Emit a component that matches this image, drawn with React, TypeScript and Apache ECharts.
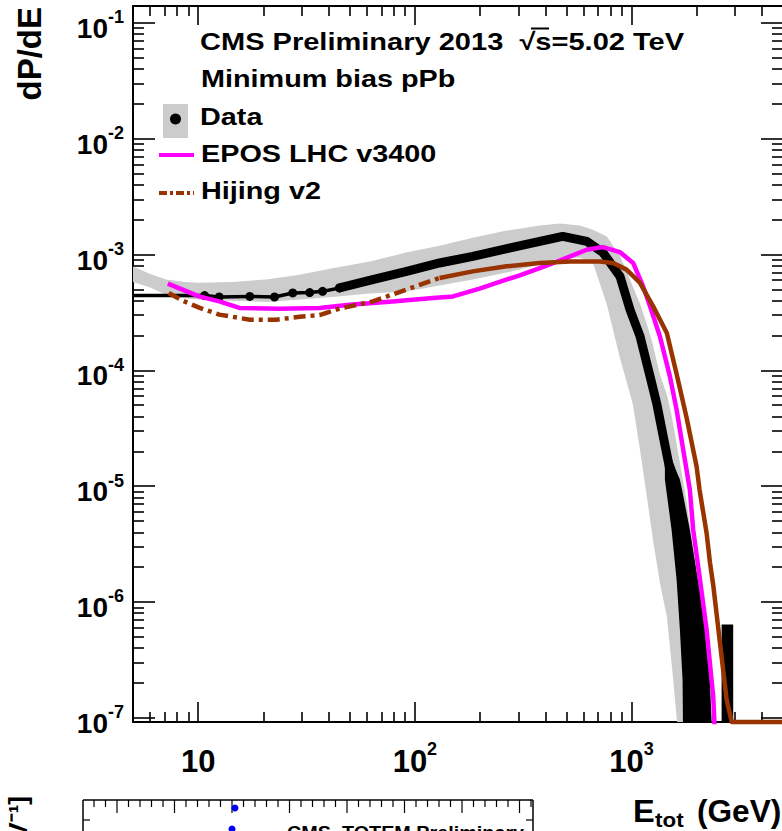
import React, { useEffect, useRef } from "react";
import * as echarts from "echarts";

// ---------- axis ranges & ticks ----------
const X_RANGE = [5, 5000];
const Y_RANGE = [9.2e-8, 0.14];
const ZERO = 5e-8; // empty bins / error reaching zero (below the frame)

const xMajor = [10, 100, 1000];
const xMinor = [6, 7, 8, 9, 20, 30, 40, 50, 60, 70, 80, 90, 200, 300, 400, 500, 600, 700, 800, 900, 2000, 3000, 4000];
const yMajor = [1e-7, 1e-6, 1e-5, 1e-4, 1e-3, 1e-2, 1e-1];
const yMinor: number[] = [];
for (let n = -7; n <= -2; n++) for (let k = 2; k <= 9; k++) yMinor.push(+(k * Math.pow(10, n)).toPrecision(3));

// ---------- data: systematic band (grey) ----------
const bandE = [5, 6, 7.1, 8.7, 10, 14.4, 20.6, 29.4, 41.7, 62, 91, 130, 185, 265, 377, 467, 577, 663, 769, 883, 1014, 1092, 1177, 1254, 1351, 1455, 1535, 1671, 1800, 1960, 2180, 2350];
const bandHi = [7.9e-4, 6.8e-4, 6.1e-4, 5.8e-4, 5.7e-4, 5.8e-4, 6.1e-4, 6.7e-4, 7.6e-4, 8.7e-4, 1.04e-3, 1.19e-3, 1.4e-3, 1.61e-3, 1.78e-3, 1.85e-3, 1.78e-3, 1.64e-3, 1.43e-3, 9.8e-4, 5.3e-4, 3.8e-4, 2.5e-4, 1.67e-4, 9.2e-5, 6.2e-5, 4.0e-5, 1.6e-5, 7.2e-6, 2.3e-6, 7.0e-7, 9.0e-8];
const bandLo = [5.8e-4, 5.2e-4, 4.5e-4, 4.2e-4, 4.1e-4, 4.0e-4, 3.9e-4, 4.1e-4, 4.3e-4, 4.6e-4, 4.8e-4, 5.4e-4, 6.1e-4, 7.0e-4, 8.2e-4, 9.4e-4, 9.4e-4, 8.5e-4, 3.7e-4, 1.29e-4, 5.1e-5, 2.1e-5, 8.1e-6, 3.5e-6, 1.47e-6, 7.5e-7, 2.8e-7, ZERO, ZERO, ZERO, ZERO, ZERO];

// ---------- data: measured points ----------
const dataE = [5, 10.7, 12.5, 17.3, 22.5, 27.3, 32.7, 37.5, 44.9, 63.8, 91.6, 130, 185, 266, 377, 481, 622, 738, 884, 984, 1094, 1217, 1305, 1400, 1503, 1614, 1671, 1858, 1960, 2069];
const dataP = [4.42e-4, 4.42e-4, 4.3e-4, 4.35e-4, 4.3e-4, 4.66e-4, 4.7e-4, 4.81e-4, 5.15e-4, 6.07e-4, 7.16e-4, 8.46e-4, 9.65e-4, 1.125e-3, 1.3e-3, 1.435e-3, 1.3e-3, 1.04e-3, 6.49e-4, 3.34e-4, 1.97e-4, 8.87e-5, 5.23e-5, 2.69e-5, 1.39e-5, 7.16e-6, 3.94e-6, 1.46e-6, 4.72e-7, 2.13e-7];
// statistical errors in the tail
const errE = [1425, 1530, 1614, 1671, 1720, 1731, 1858, 2024, 2220, 2300, 2343];
const errHi = [2.5e-5, 1.73e-5, 1.33e-5, 1.14e-5, 8.8e-6, 8.3e-6, 4.2e-6, 1.56e-6, 5.8e-7, 2.1e-7, 9.0e-8];
const errLo = [1.14e-5, 4.2e-6, 1.56e-6, 5.8e-7, 2.1e-7, ZERO, ZERO, ZERO, ZERO, ZERO, ZERO];
const outlierE = [2604, 2945];
const outlierHi = [6.4e-7, 6.4e-7];
const outlierLo = [ZERO, ZERO];

// ---------- models ----------
const eposE = [7.24, 8.46, 10.1, 12.5, 15.5, 23.7, 36.3, 50, 79, 121, 150, 199, 266, 305, 405, 501, 620, 739, 883, 1017, 1131, 1217, 1351, 1503, 1614, 1731, 1858, 1925, 2069, 2220, 2382, 2450];
const eposP = [5.61e-4, 4.98e-4, 4.35e-4, 3.94e-4, 3.46e-4, 3.41e-4, 3.46e-4, 3.69e-4, 3.94e-4, 4.22e-4, 4.35e-4, 5.08e-4, 6.1e-4, 6.6e-4, 8.01e-4, 9.35e-4, 1.1e-3, 1.16e-3, 1.05e-3, 8.46e-4, 5.31e-4, 3.57e-4, 1.97e-4, 8.87e-5, 4.58e-5, 2.07e-5, 9.33e-6, 4.21e-6, 1.56e-6, 5.77e-7, 1.52e-7, ZERO];

const hijE = [7.31, 8.46, 10.1, 12.5, 17.3, 22.9, 29.4, 36.3, 44.9, 64, 91.3, 130, 185, 265, 377, 519, 714, 822, 948, 1092, 1258, 1455, 1614, 1795, 1996, 2060, 2220, 2300, 2382, 2557, 2747, 2900, 5000];
const hijP = [4.66e-4, 4.0e-4, 3.48e-4, 3.03e-4, 2.74e-4, 2.74e-4, 2.9e-4, 3.0e-4, 3.41e-4, 3.94e-4, 4.98e-4, 6.28e-4, 7.16e-4, 7.91e-4, 8.46e-4, 8.73e-4, 8.7e-4, 8.46e-4, 7.41e-4, 5.72e-4, 3.57e-4, 2.1e-4, 9.3e-5, 3.9e-5, 1.48e-5, 9.3e-6, 3.94e-6, 2.2e-6, 1.4e-6, 4.5e-7, 1.43e-7, Y_RANGE[0], Y_RANGE[0]];

// ---------- styling ----------
const FONT = '"Liberation Sans", Arial, Helvetica, sans-serif';
const GREY = "#cccccc";
const MAGENTA = "#ff00ff";
const BROWN = "#993300";

const zip = (xs: number[], ys: number[]) => xs.map((x, i) => [x, ys[i]]);

function bandRenderer(es: number[], lo: number[], hi: number[], color: string) {
  return (params: any, api: any) => {
    const upper = es.map((e, i) => api.coord([e, hi[i]]));
    const lower = es.map((e, i) => api.coord([e, lo[i]])).reverse();
    const cs = params.coordSys;
    return {
      type: "polygon",
      shape: { points: upper.concat(lower) },
      style: { fill: color },
      clipPath: { type: "rect", shape: { x: cs.x, y: cs.y, width: cs.width, height: cs.height } },
    };
  };
}

const supRich = (base: number, sup: number) => ({
  b: { fontSize: base, fontWeight: "bold", fontFamily: FONT, color: "#000", lineHeight: base + 6, verticalAlign: "bottom" },
  s: { fontSize: sup, fontWeight: "bold", fontFamily: FONT, color: "#000", lineHeight: sup, verticalAlign: "top" },
});

function xAxisDef(position: string, ticks: number[], len: number, labels: boolean, line: boolean) {
  return {
    type: "log", logBase: 10, min: X_RANGE[0], max: X_RANGE[1], position, gridIndex: 0,
    axisLine: { show: line, onZero: false, lineStyle: { color: "#000", width: 2 } },
    axisTick: { show: true, inside: true, length: len, customValues: ticks, lineStyle: { color: "#000", width: 1.6 } },
    axisLabel: labels
      ? {
          show: true, customValues: xMajor, margin: 18,
          formatter: (v: number) => {
            const e = Math.round(Math.log10(v));
            return e === 1 ? "{b|10}" : `{b|10}{s|${e}}`;
          },
          rich: supRich(31, 18),
        }
      : { show: false },
    splitLine: { show: false }, minorTick: { show: false }, minorSplitLine: { show: false },
  };
}

function yAxisDef(position: string, ticks: number[], len: number, labels: boolean, line: boolean) {
  return {
    type: "log", logBase: 10, min: Y_RANGE[0], max: Y_RANGE[1], position, gridIndex: 0,
    axisLine: { show: line, onZero: false, lineStyle: { color: "#000", width: 2 } },
    axisTick: { show: true, inside: true, length: len, customValues: ticks, lineStyle: { color: "#000", width: 1.6 } },
    axisLabel: labels
      ? {
          show: true, customValues: yMajor, margin: 9, padding: [5, 0, 0, 0],
          formatter: (v: number) => `{b|10}{s|${Math.round(Math.log10(v))}}`,
          rich: supRich(28, 18),
        }
      : { show: false },
    splitLine: { show: false }, minorTick: { show: false }, minorSplitLine: { show: false },
  };
}

const text = (t: string, x: number, y: number, size: number, extra: any = {}) => ({
  type: "text", x, y, scaleX: extra.scaleX ?? 1.2, silent: true,
  style: { text: t, fontSize: size, fontWeight: "bold", fontFamily: FONT, fill: "#000", align: "left", verticalAlign: "middle", ...(extra.style || {}) },
  ...(extra.rotation != null ? { rotation: extra.rotation } : {}),
});

const fragmentTicks: any[] = [];
for (let i = 0; i < 39; i++) {
  const x = 94 + i * 11.5;
  fragmentTicks.push({ type: "line", silent: true, shape: { x1: x, y1: 800, x2: x, y2: i % 5 === 2 ? 813 : 807 }, style: { stroke: "#000", lineWidth: 1.2 } });
}

const option: any = {
  animation: false,
  backgroundColor: "#ffffff",
  grid: { left: 133, top: 6, width: 650, height: 716, containLabel: false, outerBoundsMode: "none", show: false },
  xAxis: [
    xAxisDef("bottom", xMajor, 20, true, true),
    xAxisDef("bottom", xMinor, 10, false, false),
    xAxisDef("top", xMajor, 19, false, true),
    xAxisDef("top", xMinor, 10, false, false),
  ],
  yAxis: [
    yAxisDef("left", yMajor, 22, true, true),
    yAxisDef("left", yMinor, 11, false, false),
    yAxisDef("right", yMajor, 22, false, true),
    yAxisDef("right", yMinor, 11, false, false),
  ],
  series: [
    { type: "custom", name: "Data (syst.)", silent: true, clip: true, z: 1, renderItem: bandRenderer(bandE, bandLo, bandHi, GREY), data: [[bandE[0], bandHi[0]]] },
    { type: "custom", name: "Data (stat.)", silent: true, clip: true, z: 2, renderItem: bandRenderer(errE, errLo, errHi, "#000"), data: [[errE[0], errHi[0]]] },
    { type: "custom", name: "Data (stat.) bin", silent: true, clip: true, z: 2, renderItem: bandRenderer(outlierE, outlierLo, outlierHi, "#000"), data: [[outlierE[0], outlierHi[0]]] },
    {
      type: "line", name: "Data", z: 3, data: zip(dataE, dataP).slice(0, 9),
      lineStyle: { color: "#000", width: 3.5 }, itemStyle: { color: "#000" },
      symbol: "circle", showSymbol: true, symbolSize: (_v: any, p: any) => (p.dataIndex === 0 ? 0 : 9),
    },
    {
      type: "line", name: "Data", z: 3, data: zip(dataE, dataP).slice(8),
      lineStyle: { color: "#000", width: 9, cap: "round", join: "round" }, showSymbol: false,
    },
    {
      type: "line", name: "EPOS LHC v3400", z: 4, data: zip(eposE, eposP),
      lineStyle: { color: MAGENTA, width: 4.5, join: "round" }, showSymbol: false,
    },
    {
      type: "line", name: "Hijing v2", z: 5, data: zip(hijE, hijP).slice(0, 12),
      lineStyle: { color: BROWN, width: 4.5, type: [12, 5, 4, 5] }, showSymbol: false,
    },
    {
      type: "line", name: "Hijing v2", z: 5, clip: false, data: zip(hijE, hijP).slice(11),
      lineStyle: { color: BROWN, width: 4.5, join: "round" }, showSymbol: false,
    },
  ],
  graphic: [
    text("CMS Preliminary 2013  \u221As=5.02 TeV", 200, 42, 24, { scaleX: 1.21 }),
    { type: "line", silent: true, shape: { x1: 531, y1: 28.5, x2: 549, y2: 28.5 }, style: { stroke: "#000", lineWidth: 2 } },
    text("Minimum bias pPb", 201, 79, 24),
    { type: "rect", silent: true, shape: { x: 163, y: 104, width: 25, height: 34 }, style: { fill: GREY } },
    { type: "circle", silent: true, shape: { cx: 175.5, cy: 119, r: 5.5 }, style: { fill: "#000" } },
    text("Data", 200, 117, 24),
    { type: "line", silent: true, shape: { x1: 159, y1: 155, x2: 194, y2: 155 }, style: { stroke: MAGENTA, lineWidth: 4 } },
    text("EPOS LHC v3400", 201, 154, 24),
    { type: "line", silent: true, shape: { x1: 159, y1: 193, x2: 194, y2: 193 }, style: { stroke: BROWN, lineWidth: 4, lineDash: [8, 3, 3, 3] } },
    text("Hijing v2", 201, 191, 24),
    // axis titles
    text("dP/dE", 29, 7, 33, { scaleX: 1, rotation: Math.PI / 2, style: { align: "right" } }),
    text("E", 633, 811.5, 31, { scaleX: 1.05 }),
    text("tot", 655, 820, 20, { scaleX: 1.12 }),
    text("(GeV)", 697, 811.5, 31, { scaleX: 1.02 }),
    // fragment of the neighbouring figure below
    { type: "line", silent: true, shape: { x1: 83, y1: 800, x2: 533, y2: 800 }, style: { stroke: "#000", lineWidth: 1.5 } },
    { type: "line", silent: true, shape: { x1: 83, y1: 800, x2: 83, y2: 831 }, style: { stroke: "#000", lineWidth: 1.5 } },
    { type: "line", silent: true, shape: { x1: 533, y1: 800, x2: 533, y2: 831 }, style: { stroke: "#000", lineWidth: 1.5 } },
    { type: "line", silent: true, shape: { x1: 83, y1: 820, x2: 90, y2: 820 }, style: { stroke: "#000", lineWidth: 1.2 } },
    { type: "line", silent: true, shape: { x1: 526, y1: 820, x2: 533, y2: 820 }, style: { stroke: "#000", lineWidth: 1.2 } },
    ...fragmentTicks,
    { type: "circle", silent: true, shape: { cx: 235, cy: 808, r: 3.5 }, style: { fill: "#0000ff" } },
    { type: "circle", silent: true, shape: { cx: 232, cy: 829, r: 3.5 }, style: { fill: "#0000ff" } },
    text("CMS, TOTEM Preliminary", 287, 833, 18, { scaleX: 1.1 }),
    text("[GeV\u207B\u00B9]", 18, 796, 26, { scaleX: 1, rotation: Math.PI / 2, style: { align: "right" } }),
  ],
};

export default function App() {
  const ref = useRef<HTMLDivElement>(null);
  useEffect(() => {
    const chart = echarts.init(ref.current!, null, { renderer: "svg" });
    chart.setOption(option);
    return () => chart.dispose();
  }, []);
  return (
    <div
      ref={ref}
      style={{ position: "fixed", left: 0, top: 0, width: 782, height: 831, background: "#fff" }}
    />
  );
}
